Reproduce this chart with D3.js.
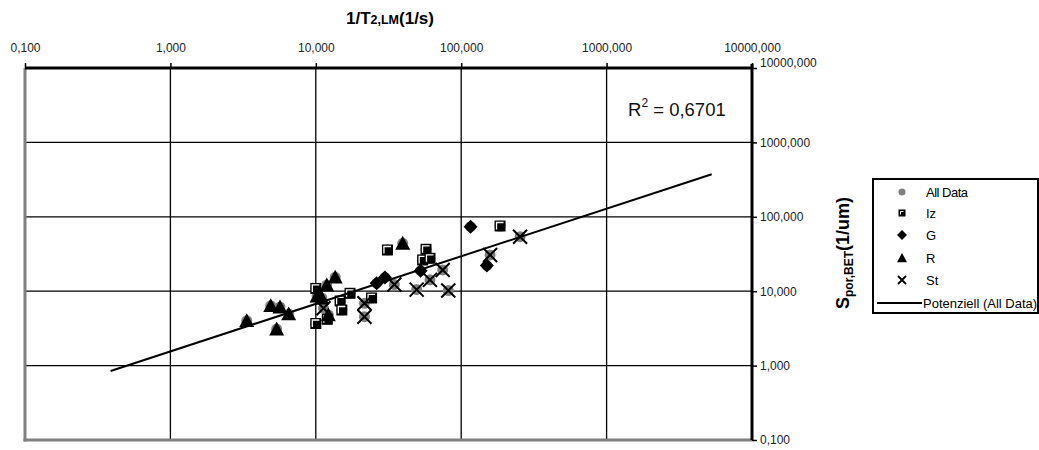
<!DOCTYPE html>
<html>
<head>
<meta charset="utf-8">
<script src="https://cdn.jsdelivr.net/npm/d3@7"></script>
<style>
  body { margin: 0; background: #fff; }
  text { font-family: "Liberation Sans", Arial, sans-serif; }
</style>
</head>
<body>
<div id="canvas"></div>
<script>
"use strict"

/* Data: x = 1/T2,LM (1/s), y = Spor,BET (1/um) */
let izX = [10.0, 10.0, 12.0, 14.7, 15.1, 17.2, 24.2, 31.1, 57.3, 54.3, 61.0, 185];
let izY = [10.9, 3.68, 4.19, 7.39, 5.59, 9.37, 8.11, 35.8, 36.6, 26.3, 27.7, 75.2];

let gX = [29.9, 26.2, 52.6, 116, 150];
let gY = [15.3, 12.8, 18.9, 73.6, 22.1];

let rX = [3.35, 4.90, 5.67, 6.51, 5.38, 13.6, 11.9, 39.6, 10.2, 11.0, 12.2];
let rY = [4.02, 6.38, 6.13, 4.94, 3.10, 15.4, 12.1, 44.0, 8.6, 8.1, 4.79];

let stX = [21.6, 21.6, 34.7, 49.4, 61.0, 74.6, 81.5, 158, 254, 11.3];
let stY = [6.88, 4.54, 12.3, 10.5, 14.2, 19.3, 10.2, 30.7, 54.0, 5.89];

/* power trend line y = a * x^b */
let trendA = 1.55;
let trendB = 0.6396;
let trendRange = [0.388, 5284];
let rSquared = "0,6701";

let tickValues = [0.1, 1, 10, 100, 1000, 10000];
let tickLabels = ["0,100", "1,000", "10,000", "100,000", "1000,000", "10000,000"];

let legendNames = ["All Data", "Iz", "G", "R", "St", "Potenziell (All Data)"];

/* drawing config */
let svgWidth = 1039;
let svgHeight = 450;
let plotLeft = 25, plotRight = 752, plotTop = 68, plotBottom = 440;

let svg = d3.select("#canvas")
    .append("svg")
    .attr("width", svgWidth)
    .attr("height", svgHeight);

let xScale = d3.scaleLog()
    .domain([0.1, 10000])
    .range([plotLeft, plotRight]);

let yScale = d3.scaleLog()
    .domain([0.1, 10000])
    .range([plotBottom, plotTop]);

/* grid lines */
svg.append("g")
    .selectAll("line")
    .data(tickValues.slice(1, -1))
    .join("line")
    .attr("x1", d => xScale(d))
    .attr("x2", d => xScale(d))
    .attr("y1", plotTop)
    .attr("y2", plotBottom)
    .attr("stroke", "black")
    .attr("stroke-width", 1.3);

svg.append("g")
    .selectAll("line")
    .data(tickValues.slice(1, -1))
    .join("line")
    .attr("x1", plotLeft)
    .attr("x2", plotRight)
    .attr("y1", d => yScale(d))
    .attr("y2", d => yScale(d))
    .attr("stroke", "black")
    .attr("stroke-width", 1.3);

/* gray plot border on left and bottom */
svg.append("line")
    .attr("x1", plotLeft).attr("x2", plotLeft)
    .attr("y1", plotTop).attr("y2", plotBottom + 1.5)
    .attr("stroke", "#808080").attr("stroke-width", 3);

svg.append("line")
    .attr("x1", plotLeft - 1.5).attr("x2", plotRight)
    .attr("y1", plotBottom).attr("y2", plotBottom)
    .attr("stroke", "#808080").attr("stroke-width", 3);

/* top axis */
let xAxis = d3.axisTop(xScale)
    .tickValues(tickValues)
    .tickSize(5)
    .tickFormat((d, i) => tickLabels[i]);

let gx = svg.append("g")
    .attr("transform", "translate(0," + plotTop + ")")
    .call(xAxis);
gx.select(".domain").attr("stroke-width", 3).attr("d", "M" + plotLeft + ",0H" + plotRight);
gx.selectAll(".tick line").attr("stroke-width", 1.5);
gx.selectAll(".tick text")
    .attr("y", -16)
    .attr("font-family", "Liberation Sans, Arial, sans-serif")
    .attr("font-size", 12)
    .attr("fill", "#222");

/* right axis */
let yAxis = d3.axisRight(yScale)
    .tickValues(tickValues)
    .tickSize(5)
    .tickFormat((d, i) => tickLabels[i]);

let gy = svg.append("g")
    .attr("transform", "translate(" + plotRight + ",0)")
    .call(yAxis);
gy.select(".domain").attr("stroke-width", 3).attr("d", "M0," + (plotTop - 4) + "V" + plotBottom);
gy.selectAll(".tick line").attr("stroke-width", 1.5);
gy.selectAll(".tick text")
    .attr("x", 8)
    .attr("font-family", "Liberation Sans, Arial, sans-serif")
    .attr("font-size", 12)
    .attr("fill", "#222");
gy.selectAll(".tick").filter(d => d === 10000).select("text").attr("dy", "-0.1em");

/* axis titles */
let xTitle = svg.append("text")
    .attr("x", 390)
    .attr("y", 24)
    .attr("text-anchor", "middle")
    .attr("font-weight", "bold")
    .attr("font-size", 17);
xTitle.append("tspan").text("1/T");
xTitle.append("tspan").attr("font-size", 12.5).text("2,LM");
xTitle.append("tspan").text("(1/s)");

let yTitle = svg.append("text")
    .attr("transform", "translate(849,253) rotate(-90)")
    .attr("text-anchor", "middle")
    .attr("font-weight", "bold")
    .attr("font-size", 18);
yTitle.append("tspan").text("S");
yTitle.append("tspan").attr("font-size", 12).attr("dy", 4).text("por,BET");
yTitle.append("tspan").attr("dy", -4).text("(1/um)");

/* marker shapes */
function drawSquare(g, s) {
    g.append("rect")
        .attr("x", -s / 2).attr("y", -s / 2)
        .attr("width", s).attr("height", s)
        .attr("fill", "black");
    let k = s / 2 - 2;
    g.append("path")
        .attr("d", "M" + (-k) + "," + (k) + "V" + (-k) + "H" + (k))
        .attr("fill", "none")
        .attr("stroke", "white")
        .attr("stroke-width", s > 9 ? 1.3 : 1);
}
function drawDiamond(g, s) {
    g.append("path")
        .attr("d", "M0," + (-s) + "L" + s + ",0L0," + s + "L" + (-s) + ",0Z")
        .attr("fill", "black");
}
function drawTriangle(g, s) {
    g.append("path")
        .attr("d", "M0," + (-s) + "L" + s + "," + (s * 0.85) + "L" + (-s) + "," + (s * 0.85) + "Z")
        .attr("fill", "black");
}
function drawCross(g, s, w) {
    g.append("path")
        .attr("d", "M" + (-s) + "," + (-s) + "L" + s + "," + s + "M" + (-s) + "," + s + "L" + s + "," + (-s))
        .attr("stroke", "black")
        .attr("stroke-width", w);
}

/* All Data: gray circles under every point */
let allX = izX.concat(gX, rX, stX);
let allY = izY.concat(gY, rY, stY);
svg.append("g")
    .selectAll("circle")
    .data(allX)
    .join("circle")
    .attr("cx", d => xScale(d))
    .attr("cy", (d, i) => yScale(allY[i]))
    .attr("r", 5.5)
    .attr("fill", "#808080");

function plotSeries(xs, ys, draw) {
    svg.append("g")
        .selectAll("g")
        .data(xs)
        .join("g")
        .attr("transform", (d, i) => "translate(" + xScale(d) + "," + yScale(ys[i]) + ")")
        .each(function () { draw(d3.select(this)); });
}

plotSeries(izX, izY, g => drawSquare(g, 11));
plotSeries(gX, gY, g => drawDiamond(g, 7));
plotSeries(rX, rY, g => drawTriangle(g, 7.5));
plotSeries(stX, stY, g => drawCross(g, 7, 2));

/* power trend line */
let trendX = [trendRange[0], trendRange[1]];
let line = d3.line()
    .x(d => xScale(d))
    .y(d => yScale(trendA * Math.pow(d, trendB)));
svg.append("path")
    .datum(trendX)
    .attr("d", line)
    .attr("fill", "none")
    .attr("stroke", "black")
    .attr("stroke-width", 2);

/* R squared label */
let rText = svg.append("text")
    .attr("x", 628)
    .attr("y", 116)
    .attr("font-size", 18.5)
    .attr("fill", "#111");
rText.append("tspan").text("R");
rText.append("tspan").attr("font-size", 12).attr("dy", -9).text("2");
rText.append("tspan").attr("dy", 9).text(" = " + rSquared);

/* legend */
let legendX = 873;
let legendY = 179;
svg.append("rect")
    .attr("x", legendX)
    .attr("y", legendY)
    .attr("width", 165)
    .attr("height", 134)
    .attr("fill", "white")
    .attr("stroke", "black")
    .attr("stroke-width", 2);

let legendRowY = [192, 213, 235, 258, 280, 303];
let legendDraw = [
    g => g.append("circle").attr("r", 3.5).attr("fill", "#808080"),
    g => drawSquare(g, 7),
    g => drawDiamond(g, 5),
    g => drawTriangle(g, 5),
    g => drawCross(g, 4, 1.8),
    g => g.append("line").attr("x1", -25).attr("x2", 20).attr("stroke", "black").attr("stroke-width", 2)
];

legendNames.forEach(function (name, i) {
    let g = svg.append("g")
        .attr("transform", "translate(902," + legendRowY[i] + ")");
    legendDraw[i](g);
    svg.append("text")
        .attr("x", i === 5 ? 923 : 926)
        .attr("y", legendRowY[i])
        .attr("dy", "0.35em")
        .attr("font-size", 13)
        .attr("letter-spacing", i === 0 ? -0.5 : 0)
        .text(name);
});
</script>
</body>
</html>
